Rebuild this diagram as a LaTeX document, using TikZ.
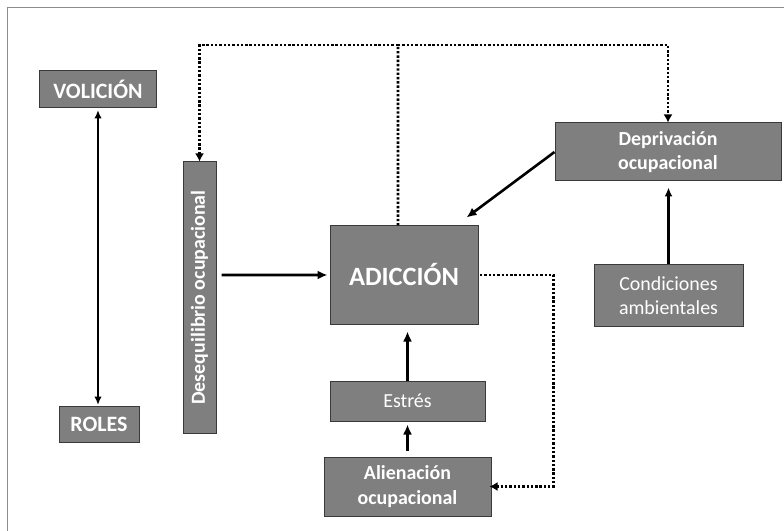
\documentclass[tikz,border=0pt]{standalone}
\usepackage{fontspec}
\setmainfont{Carlito}
\usetikzlibrary{arrows.meta}
\definecolor{boxfill}{HTML}{7F7F7F}
\definecolor{boxline}{HTML}{3A3A3A}
\definecolor{framecol}{HTML}{8C8C8C}
\begin{document}
\begin{tikzpicture}[x=1bp,y=-1bp,
  box/.style={draw=boxline, line width=1bp, fill=boxfill, text=white, inner sep=0pt, align=center},
  txtb/.style={font=\bfseries\fontsize{20}{24.4}\selectfont},
  txtr/.style={font=\fontsize{20}{24.2}\selectfont},
  arr/.style={line width=2.6bp, -{Latex[length=10bp,width=9bp]}},
  arrthin/.style={line width=2.1bp, -{Latex[length=9bp,width=8bp]}},
  dbl/.style={line width=2.1bp, {Latex[length=8.5bp,width=7.5bp]}-{Latex[length=8.5bp,width=7.5bp]}},
  dotline/.style={line width=2.8bp, dash pattern=on 2.4bp off 1.9bp},
  dotarr/.style={dotline, -{Latex[length=8bp,width=9bp]}}
]
\useasboundingbox (0,0) rectangle (784,531);
% frame
\draw[framecol, line width=1.4bp] (7.5,531) -- (7.5,7.5) -- (784,7.5);

% nodes
\node[box, minimum width=116bp, minimum height=37bp, font=\bfseries\fontsize{22}{26}\selectfont] (vol) at (98,89.5) {VOLICIÓN};
\node[box, minimum width=80bp, minimum height=36bp, font=\bfseries\fontsize{22}{26}\selectfont] (rol) at (99,424) {ROLES};
\node[box, txtb, rotate=90, minimum width=271bp, minimum height=33bp] (des) at (199.5,297.5) {Desequilibrio ocupacional};
\node[box, minimum width=148bp, minimum height=98bp, font=\bfseries\fontsize{26.5}{30}\selectfont] (add) at (404,275) {ADICCIÓN};
\node[box, txtr, minimum width=155bp, minimum height=40bp] (est) at (407.5,401) {Estrés};
\node[box, txtb, minimum width=167bp, minimum height=59bp] (ali) at (407.5,486.5) {Alienación\\ocupacional};
\node[box, txtb, minimum width=226bp, minimum height=58bp] (dep) at (668,152) {Deprivación\\ocupacional};
\node[box, txtr, minimum width=149bp, minimum height=61bp] (con) at (668.5,295.5) {Condiciones\\ambientales};

\coordinate (top) at (398,45);

% connectors
\draw[dbl, shorten <=1.5bp, shorten >=0.5bp] (vol.south) -- (vol.south |- rol.north);
\draw[dotline] ([xshift=-6bp]add.north) -- (top);
\draw[dotarr] (top) -| (des.east);
\draw[dotarr] (top) -| (dep.north);
\draw[arr] (dep.west) -- ([xshift=-12bp,yshift=8bp]add.north east);
\draw[arrthin, shorten >=6bp] (con.north) -- (con.north |- dep.south);
\draw[arr, shorten >=2bp] ([xshift=5bp,yshift=22.5bp]des.south) -- (add.west |- 0,275);
\draw[arr, shorten >=7bp] (est.north) -- (est.north |- add.south);
\draw[arr, shorten <=6bp, shorten >=3bp] (ali.north) -- (ali.north |- est.south);
\draw[dotarr, shorten >=-2bp] ([xshift=1.5bp]add.east) -- ++(73.5,0) |- (ali.east);
\end{tikzpicture}
\end{document}
